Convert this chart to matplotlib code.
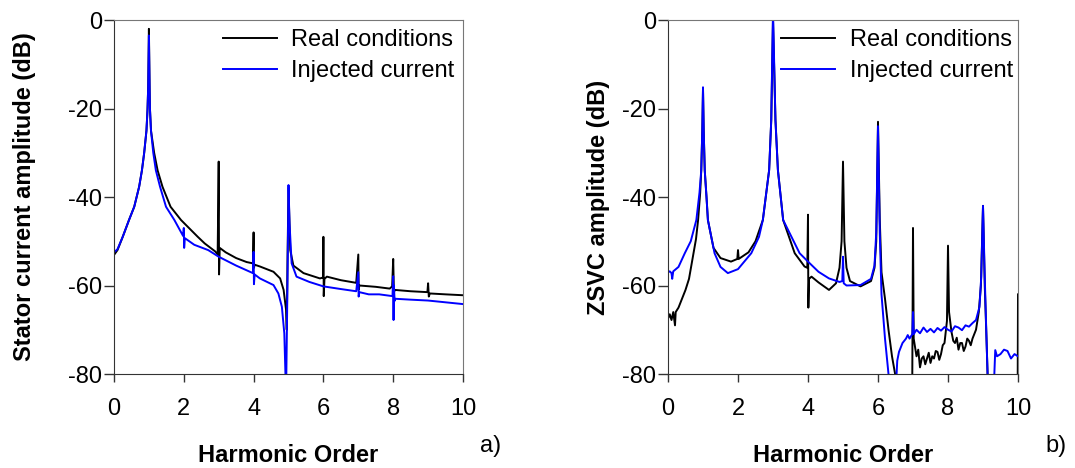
import matplotlib

matplotlib.use("Agg")
import matplotlib.pyplot as plt

plt.rcParams["font.family"] = ["Liberation Sans", "DejaVu Sans"]
plt.rcParams["axes.unicode_minus"] = False

# a) stator current spectrum, real conditions
stator_real_x = [0, 0.1, 0.25, 0.43, 0.58, 0.72, 0.8, 0.865, 0.93, 0.96, 0.98, 1.0,
                 1.02, 1.03, 1.06, 1.15, 1.25, 1.39, 1.62, 1.92, 2.4, 2.6, 2.9, 2.97,
                 3.0, 3.01, 3.03, 3.2, 3.5, 3.8, 3.98, 4.0, 4.01, 4.03, 4.18, 4.57,
                 4.76, 4.86, 4.93, 4.95, 4.97, 5.0, 5.05, 5.14, 5.43, 5.9, 5.99,
                 6.0, 6.01, 6.03, 6.1, 6.5, 6.94, 7.0, 7.01, 7.03, 7.5, 7.9,
                 7.97, 8.0, 8.02, 8.05, 8.5, 8.98, 9.0, 9.02, 9.05, 9.5, 10.0]
stator_real_y = [-53.1, -52.0, -49.0, -45.2, -42.2, -37.7, -34.0, -30.0, -25.0, -20.3,
                 -15.0, -2.0, -15.0, -20.0, -25.0, -30.0, -34.0, -37.7, -42.2, -45.2,
                 -49.0, -50.5, -52.3, -53.0, -32.0, -57.5, -51.5, -52.5, -53.8, -54.7,
                 -55.0, -48.0, -56.0, -55.3, -55.7, -56.9, -58.4, -61.0, -65.5, -70.0,
                 -55.0, -38.0, -52.0, -55.5, -57.2, -58.4, -58.2, -49.0, -62.4, -58.5,
                 -58.0, -58.8, -59.4, -53.0, -61.0, -60.0, -60.3, -60.7, -60.2, -54.0,
                 -61.5, -61.0, -61.3, -61.5, -59.5, -62.5, -61.8, -62.0, -62.2]

# a) stator current spectrum, injected current
stator_inj_x = [0, 0.1, 0.25, 0.43, 0.58, 0.72, 0.8, 0.865, 0.93, 0.96, 0.98, 1.0,
                1.02, 1.03, 1.06, 1.125, 1.2, 1.32, 1.49, 1.73, 1.98, 2.0, 2.01,
                2.03, 2.3, 2.7, 3.0, 3.5, 3.98, 4.0, 4.01, 4.03, 4.18, 4.57, 4.71,
                4.81, 4.88, 4.93, 4.97, 5.0, 5.03, 5.09, 5.23, 5.6, 6.0, 6.5, 6.94,
                7.0, 7.01, 7.03, 7.3, 7.6, 7.98, 8.0, 8.01, 8.02, 8.04, 8.06, 8.5,
                9.0, 9.5, 10.0]
stator_inj_y = [-52.5, -51.8, -49.0, -45.2, -42.2, -37.7, -34.0, -30.0, -25.0, -20.3,
                -15.0, -3.5, -15.0, -20.0, -25.0, -30.0, -34.0, -37.7, -42.2, -45.2,
                -48.8, -47.0, -51.5, -49.3, -50.8, -52.0, -53.5, -55.5, -57.2, -52.4,
                -59.7, -57.5, -58.4, -59.9, -61.8, -64.8, -70.8, -85.0, -60.0, -37.3,
                -46.0, -55.0, -58.0, -59.2, -60.2, -60.8, -61.3, -57.0, -62.5, -61.5,
                -62.0, -62.0, -62.4, -57.9, -67.8, -60.0, -63.5, -63.0, -63.2, -63.4,
                -63.8, -64.2]

# b) ZSVC spectrum, real conditions
zsvc_real_x = [0, 0.05, 0.1, 0.15, 0.2, 0.22, 0.3, 0.4, 0.5, 0.6, 0.7, 0.8, 0.86,
               0.92, 0.95, 0.98, 1.0, 1.02, 1.05, 1.1, 1.14, 1.3, 1.5, 1.8, 1.98,
               2.0, 2.02, 2.3, 2.5, 2.71, 2.89, 2.95, 3.0, 3.07, 3.14, 3.29, 3.62,
               3.9, 3.98, 4.0, 4.01, 4.03, 4.1, 4.3, 4.6, 4.8, 4.9, 4.96, 5.0,
               5.04, 5.1, 5.2, 5.5, 5.8, 5.9, 5.95, 6.0, 6.05, 6.1, 6.2, 6.3, 6.4,
               6.5, 6.9, 6.98, 7.0, 7.02, 7.1, 7.15, 7.2, 7.25, 7.3, 7.35, 7.4,
               7.45, 7.5, 7.55, 7.6, 7.65, 7.7, 7.75, 7.8, 7.85, 7.9, 7.97, 8.0,
               8.03, 8.1, 8.15, 8.2, 8.25, 8.3, 8.35, 8.4, 8.45, 8.5, 8.55, 8.6,
               8.65, 8.7, 8.75, 8.8, 8.88, 8.94, 9.0, 9.05, 9.1, 9.15, 9.99, 10.0]
zsvc_real_y = [-67.5, -66.5, -67.8, -66.0, -69.0, -66.0, -65.0, -63.0, -61.0, -58.5,
               -54.0, -49.5, -45.2, -39.0, -34.0, -25.0, -15.5, -25.0, -34.0, -40.0,
               -45.2, -51.5, -53.8, -54.6, -54.0, -52.0, -54.0, -52.5, -50.0, -45.2,
               -33.9, -22.6, 0.0, -22.6, -33.9, -45.2, -52.7, -55.7, -56.0, -44.0,
               -65.0, -58.5, -58.0, -59.3, -61.0, -59.5, -56.0, -50.0, -32.0, -50.0,
               -56.0, -59.0, -60.2, -59.0, -56.0, -50.0, -23.0, -45.0, -57.0, -63.0,
               -70.0, -76.0, -80.5, -85.0, -80.0, -47.0, -72.0, -76.0, -74.5, -78.5,
               -76.5, -76.0, -77.8, -76.5, -75.2, -77.5, -76.0, -76.5, -74.8, -75.0,
               -76.8, -75.5, -73.5, -73.0, -68.0, -51.0, -66.0, -70.5, -72.5, -73.0,
               -71.8, -74.5, -73.0, -73.0, -74.8, -73.8, -72.0, -72.5, -73.5, -72.0,
               -71.0, -70.0, -66.0, -60.0, -42.0, -60.0, -72.0, -85.0, -85.0, -62.0]

# b) ZSVC spectrum, injected current
zsvc_inj_x = [0, 0.05, 0.1, 0.12, 0.15, 0.3, 0.48, 0.65, 0.81, 0.9, 0.95, 0.98, 1.0,
              1.02, 1.05, 1.1, 1.14, 1.33, 1.5, 1.71, 2.0, 2.38, 2.6, 2.71, 2.89,
              2.95, 3.0, 3.07, 3.14, 3.29, 3.76, 4.0, 4.3, 4.6, 4.9, 4.98, 5.0,
              5.02, 5.1, 5.5, 5.8, 5.9, 5.95, 6.0, 6.05, 6.1, 6.2, 6.3, 6.35, 6.5,
              6.55, 6.6, 6.65, 6.7, 6.75, 6.8, 6.85, 6.9, 6.98, 7.0, 7.02, 7.1,
              7.2, 7.3, 7.4, 7.5, 7.6, 7.7, 7.8, 7.9, 8.0, 8.1, 8.2, 8.3, 8.4,
              8.5, 8.6, 8.7, 8.8, 8.9, 8.95, 9.0, 9.05, 9.1, 9.15, 9.3, 9.35, 9.4,
              9.5, 9.6, 9.7, 9.8, 9.9, 10.0]
zsvc_inj_y = [-57.0, -56.8, -57.2, -58.5, -56.8, -55.8, -52.7, -50.0, -45.2, -39.0,
              -34.0, -25.0, -15.2, -25.0, -34.0, -40.0, -45.2, -52.7, -55.8, -57.2,
              -56.3, -52.7, -49.0, -45.2, -33.9, -22.6, 2.0, -22.6, -33.9, -45.2,
              -52.7, -54.6, -56.9, -58.4, -59.2, -59.0, -53.5, -59.5, -60.0, -59.9,
              -58.5, -55.5, -48.0, -24.0, -48.0, -62.0, -72.0, -80.0, -85.0, -85.0,
              -77.0, -75.0, -74.0, -73.0, -72.5, -72.0, -71.2, -72.0, -71.0, -66.0,
              -71.0, -70.0, -70.8, -69.5, -70.5, -69.8, -70.6, -69.6, -70.2, -69.4,
              -70.0, -70.4, -69.2, -69.5, -70.1, -69.0, -69.3, -68.5, -67.8, -64.8,
              -58.0, -42.0, -58.0, -72.0, -85.0, -85.0, -74.6, -76.0, -75.5, -74.5,
              -74.8, -76.5, -75.5, -76.0]

x_ticks = [0, 2, 4, 6, 8, 10]
y_ticks = [-80, -60, -40, -20, 0]

FS = 17

fig = plt.figure(figsize=(10.75, 4.68), dpi=100)
ax_a = fig.add_axes([114 / 1075, 94 / 468, 349 / 1075, 354 / 468])
ax_b = fig.add_axes([668 / 1075, 94 / 468, 350 / 1075, 354 / 468])

panels = [
    (ax_a, stator_real_x, stator_real_y, stator_inj_x, stator_inj_y, 0.311),
    (ax_b, zsvc_real_x, zsvc_real_y, zsvc_inj_x, zsvc_inj_y, 0.323),
]
for ax, rx, ry, ix, iy, leg_x in panels:
    ax.plot(rx, ry, color="black", lw=1.4, label="Real conditions")
    ax.plot(ix, iy, color="#0000ff", lw=1.4, label="Injected current")
    ax.set_xlim(0, 10)
    ax.set_ylim(-80, 0)
    ax.set_xticks(x_ticks)
    ax.set_yticks(y_ticks)
    ax.tick_params(axis="x", direction="out", length=6, width=1, labelsize=FS,
                   pad=11, color="#333333")
    ax.tick_params(axis="y", direction="out", length=7, width=1, labelsize=FS,
                   pad=1.5, color="#333333")
    for side in ("left", "bottom"):
        ax.spines[side].set_color("#333333")
    for side in ("top", "right"):
        ax.spines[side].set_color("#777777")
    ax.legend(loc="upper left", bbox_to_anchor=(leg_x, 0.975), frameon=False,
              fontsize=FS, handlelength=2.3, handletextpad=0.6, labelspacing=0.4,
              borderpad=0, borderaxespad=0)

fig.text(288 / 1075, 1 - 456 / 468, "Harmonic Order", fontsize=FS, fontweight="bold",
         ha="center", va="center")
fig.text(843 / 1075, 1 - 456 / 468, "Harmonic Order", fontsize=FS, fontweight="bold",
         ha="center", va="center")
fig.text(25 / 1075, 1 - 197 / 468, "Stator current amplitude (dB)", fontsize=FS,
         fontweight="bold", rotation=90, ha="center", va="center")
fig.text(598 / 1075, 1 - 197 / 468, "ZSVC amplitude (dB)", fontsize=FS,
         fontweight="bold", rotation=90, ha="center", va="center")
fig.text(491 / 1075, 1 - 446 / 468, "a)", fontsize=FS, ha="center", va="center")
fig.text(1056 / 1075, 1 - 446 / 468, "b)", fontsize=FS, ha="center", va="center")

fig.savefig("out.png", dpi=100)
plt.close(fig)
